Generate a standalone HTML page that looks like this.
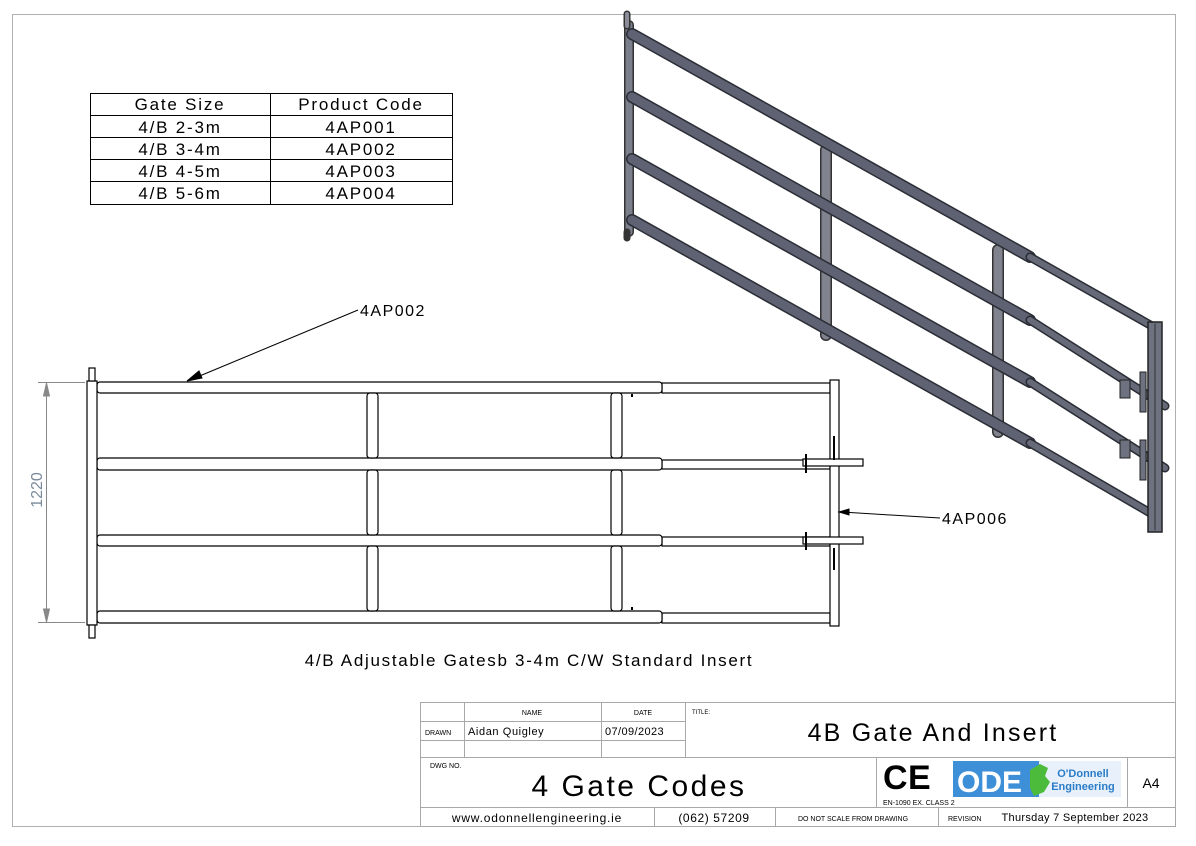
<!DOCTYPE html>
<html><head><meta charset="utf-8"><style>
html,body{margin:0;padding:0;background:#fff;}
svg{display:block;font-family:"Liberation Sans",sans-serif;}
</style></head><body>
<svg width="1196" height="846" viewBox="0 0 1196 846" xmlns="http://www.w3.org/2000/svg">
<rect x="0" y="0" width="1196" height="846" fill="#fff"/>
<rect x="12.5" y="14.5" width="1163" height="812" fill="none" stroke="#b0b0b0" stroke-width="1"/>

<!-- table -->
<g stroke="#000" stroke-width="1" fill="none">
<rect x="90.5" y="93.5" width="362" height="111"/>
<line x1="270.5" y1="93" x2="270.5" y2="205"/>
<line x1="90" y1="115.5" x2="452" y2="115.5"/>
<line x1="90" y1="137.5" x2="452" y2="137.5"/>
<line x1="90" y1="159.5" x2="452" y2="159.5"/>
<line x1="90" y1="181.5" x2="452" y2="181.5"/>
</g>
<g font-size="17" text-anchor="middle" fill="#000" letter-spacing="1.8">
<text x="180" y="110">Gate Size</text><text x="361" y="110">Product Code</text>
<text x="180" y="133">4/B 2-3m</text><text x="361" y="133">4AP001</text>
<text x="180" y="155">4/B 3-4m</text><text x="361" y="155">4AP002</text>
<text x="180" y="177">4/B 4-5m</text><text x="361" y="177">4AP003</text>
<text x="180" y="199">4/B 5-6m</text><text x="361" y="199">4AP004</text>
</g>

<!-- isometric gate -->
<g stroke-linecap="round">
<line x1="629" y1="25" x2="629" y2="232" stroke="#333" stroke-width="10"/>
<line x1="629" y1="25" x2="629" y2="232" stroke="#7b7f8c" stroke-width="7"/>
<line x1="826" y1="150" x2="826" y2="335" stroke="#333" stroke-width="12"/>
<line x1="826" y1="150" x2="826" y2="335" stroke="#80838d" stroke-width="9"/>
<line x1="998" y1="250" x2="998" y2="432" stroke="#333" stroke-width="12"/>
<line x1="998" y1="250" x2="998" y2="432" stroke="#80838d" stroke-width="9"/>
<g>
<line x1="632" y1="34" x2="1030" y2="257" stroke="#2a2d35" stroke-width="12"/>
<line x1="632" y1="34" x2="1030" y2="257" stroke="#5e6272" stroke-width="9"/>
<line x1="632" y1="97" x2="1030" y2="320" stroke="#2a2d35" stroke-width="12"/>
<line x1="632" y1="97" x2="1030" y2="320" stroke="#5e6272" stroke-width="9"/>
<line x1="632" y1="159" x2="1030" y2="382" stroke="#2a2d35" stroke-width="12"/>
<line x1="632" y1="159" x2="1030" y2="382" stroke="#5e6272" stroke-width="9"/>
<line x1="632" y1="220" x2="1030" y2="443" stroke="#2a2d35" stroke-width="12"/>
<line x1="632" y1="220" x2="1030" y2="443" stroke="#5e6272" stroke-width="9"/>
</g>
<g>
<line x1="1030" y1="257" x2="1152" y2="326" stroke="#2a2d35" stroke-width="9"/>
<line x1="1030" y1="257" x2="1152" y2="326" stroke="#666a78" stroke-width="6"/>
<line x1="1030" y1="320" x2="1165" y2="406" stroke="#2a2d35" stroke-width="9"/>
<line x1="1030" y1="320" x2="1165" y2="406" stroke="#666a78" stroke-width="6"/>
<line x1="1030" y1="382" x2="1165" y2="468" stroke="#2a2d35" stroke-width="9"/>
<line x1="1030" y1="382" x2="1165" y2="468" stroke="#666a78" stroke-width="6"/>
<line x1="1030" y1="443" x2="1152" y2="514" stroke="#2a2d35" stroke-width="9"/>
<line x1="1030" y1="443" x2="1152" y2="514" stroke="#666a78" stroke-width="6"/>
</g>
<rect x="1148" y="322" width="14" height="210" fill="#6d7180" stroke="#222" stroke-width="1.5"/>
<line x1="1155" y1="324" x2="1155" y2="530" stroke="#333" stroke-width="1"/>
<rect x="1120" y="380" width="10" height="18" fill="#6d7180" stroke="#222"/>
<rect x="1140" y="372" width="6" height="40" fill="#6d7180" stroke="#222"/>
<rect x="1120" y="440" width="10" height="18" fill="#6d7180" stroke="#222"/>
<rect x="1140" y="440" width="6" height="40" fill="#6d7180" stroke="#222"/>
<line x1="627" y1="14" x2="627" y2="26" stroke="#333" stroke-width="7"/>
<line x1="627" y1="14" x2="627" y2="26" stroke="#8a8d98" stroke-width="4"/>
<line x1="627" y1="232" x2="627" y2="238" stroke="#333" stroke-width="7"/>
</g>

<!-- front view -->
<g stroke="#000" stroke-width="1.2" fill="#fff">
<rect x="662" y="383" width="168" height="10"/>
<rect x="662" y="460" width="168" height="9"/>
<rect x="662" y="537" width="168" height="9"/>
<rect x="662" y="613" width="168" height="10"/>
<rect x="97" y="382" width="565" height="11" rx="3"/>
<rect x="97" y="458" width="565" height="12" rx="3"/>
<rect x="97" y="535" width="565" height="11" rx="3"/>
<rect x="97" y="611" width="565" height="12" rx="3"/>
<rect x="367" y="393" width="11" height="65" rx="3"/>
<rect x="367" y="470" width="11" height="65" rx="3"/>
<rect x="367" y="546" width="11" height="65" rx="3"/>
<rect x="611" y="393" width="11" height="65" rx="3"/>
<rect x="611" y="470" width="11" height="65" rx="3"/>
<rect x="611" y="546" width="11" height="65" rx="3"/>
<rect x="87" y="381" width="10" height="244"/>
<rect x="89" y="368" width="6" height="13"/>
<rect x="89" y="625" width="6" height="13"/>
<rect x="830" y="380" width="9" height="246"/>
<rect x="803" y="459" width="60" height="7"/>
<rect x="803" y="537" width="60" height="7"/>
</g>
<g stroke="#000" stroke-width="2">
<line x1="806" y1="454" x2="806" y2="473"/>
<line x1="806" y1="532" x2="806" y2="550"/>
<line x1="834" y1="436" x2="834" y2="460"/>
<line x1="834" y1="548" x2="834" y2="570"/>
<line x1="632" y1="394" x2="632" y2="397"/>
<line x1="632" y1="607" x2="632" y2="610"/>
</g>

<g stroke="#888" stroke-width="1" fill="#888">
<line x1="38" y1="382.5" x2="85" y2="382.5"/>
<line x1="38" y1="622.5" x2="85" y2="622.5"/>
<line x1="46.5" y1="383" x2="46.5" y2="622"/>
<polygon points="46.5,383 43.5,396 49.5,396"/>
<polygon points="46.5,622 43.5,609 49.5,609"/>
</g>
<text x="42" y="490" font-size="16" fill="#7a8a9a" text-anchor="middle" transform="rotate(-90 42 490)">1220</text>

<g stroke="#000" stroke-width="1" fill="#000">
<line x1="358" y1="310" x2="190" y2="380"/>
<polygon points="187,381 199,371 202,378"/>
<line x1="940" y1="518" x2="842" y2="512"/>
<polygon points="839,512 849,509 849,515"/>
</g>
<text x="360" y="316" font-size="16" fill="#000" letter-spacing="1.5">4AP002</text>
<text x="942" y="524" font-size="16" fill="#000" letter-spacing="1.5">4AP006</text>
<text x="529" y="666" font-size="17" fill="#000" text-anchor="middle" letter-spacing="1.7">4/B Adjustable Gatesb 3-4m C/W Standard Insert</text>

<!-- title block -->
<g stroke="#a8a8a8" stroke-width="1" fill="none">
<rect x="420.5" y="702.5" width="755" height="124"/>
<line x1="420" y1="721.5" x2="685" y2="721.5"/>
<line x1="420" y1="740.5" x2="685" y2="740.5"/>
<line x1="420" y1="757.5" x2="1175" y2="757.5"/>
<line x1="420" y1="807.5" x2="1175" y2="807.5"/>
<line x1="464.5" y1="702" x2="464.5" y2="757"/>
<line x1="601.5" y1="702" x2="601.5" y2="757"/>
<line x1="685.5" y1="702" x2="685.5" y2="757"/>
<line x1="876.5" y1="757" x2="876.5" y2="807"/>
<line x1="1127.5" y1="757" x2="1127.5" y2="807"/>
<line x1="654.5" y1="807" x2="654.5" y2="826"/>
<line x1="775.5" y1="807" x2="775.5" y2="826"/>
<line x1="938.5" y1="807" x2="938.5" y2="826"/>
</g>
<g fill="#000">
<text x="532" y="715" font-size="7" text-anchor="middle">NAME</text>
<text x="643" y="715" font-size="7" text-anchor="middle">DATE</text>
<text x="692" y="714" font-size="6">TITLE:</text>
<text x="425" y="735" font-size="7">DRAWN</text>
<text x="468" y="735" font-size="11" letter-spacing="0.6">Aidan Quigley</text>
<text x="605" y="735" font-size="11" letter-spacing="0.4">07/09/2023</text>
<text x="933" y="741" font-size="25" text-anchor="middle" letter-spacing="2.2">4B Gate And Insert</text>
<text x="430" y="768" font-size="7">DWG NO.</text>
<text x="639" y="796" font-size="30" text-anchor="middle" letter-spacing="2.5">4 Gate Codes</text>
<text x="883" y="789" font-size="34" font-weight="bold">C</text>
<text x="908" y="789" font-size="34" font-weight="bold">E</text>
<text x="883" y="805" font-size="7">EN-1090 EX. CLASS 2</text>
<text x="1151" y="788" font-size="14" text-anchor="middle">A4</text>
<text x="537" y="822" font-size="12" text-anchor="middle" letter-spacing="0.8">www.odonnellengineering.ie</text>
<text x="714" y="822" font-size="12" text-anchor="middle" letter-spacing="0.6">(062) 57209</text>
<text x="853" y="821" font-size="7" text-anchor="middle">DO NOT SCALE FROM DRAWING</text>
<text x="948" y="821" font-size="7">REVISION</text>
<text x="1075" y="821" font-size="11" text-anchor="middle" letter-spacing="0.3">Thursday 7 September 2023</text>
</g>
<rect x="953" y="761" width="168" height="36" fill="#e8f1fb"/>
<rect x="953" y="761" width="86" height="36" fill="#3d8fd8"/>
<text x="957" y="792" font-size="30" font-weight="bold" fill="#fff">ODE</text>
<path d="M1030 770 l10 -6 8 4 -3 8 5 6 -6 10 -10 4 -4 -8 z" fill="#4cbb3c"/>
<text x="1083" y="777" font-size="11" font-weight="bold" fill="#2a7cc8" text-anchor="middle">O'Donnell</text>
<text x="1083" y="790" font-size="11" font-weight="bold" fill="#2a7cc8" text-anchor="middle">Engineering</text>
</svg>
</body></html>
